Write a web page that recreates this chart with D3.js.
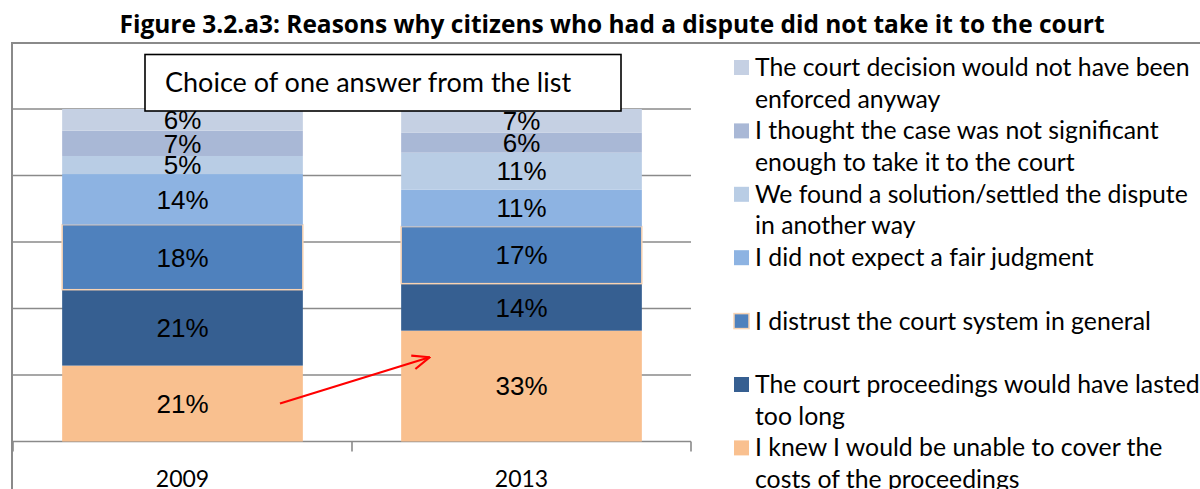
<!DOCTYPE html>
<html>
<head>
<meta charset="utf-8">
<script src="https://cdn.jsdelivr.net/npm/d3@7"></script>
<style>
  body { margin: 0; background: #fff; }
  svg { display: block; }
</style>
</head>
<body>
<div id="chart"></div>
<script>
// Reasons why citizens who had a dispute did not take it to the court

const years = ["2009", "2013"];

// stacking order, bottom to top
const reasons = ["costs", "long", "distrust", "fair", "solution", "notsig", "enforced"];

const reasonLabels = [
  ["I knew I would be unable to cover the", "costs of the proceedings"],
  ["The court proceedings would have lasted", "too long"],
  ["I distrust the court system in general"],
  ["I did not expect a fair judgment"],
  ["We found a solution/settled the dispute", "in another way"],
  ["I thought the case was not significant", "enough to take it to the court"],
  ["The court decision would not have been", "enforced anyway"]
];

const values2009 = [21, 21, 18, 14, 5, 7, 6];
const values2013 = [33, 14, 17, 11, 11, 6, 7];

const reasonColors = ["#F9C08F", "#365F91", "#4F81BD", "#8DB3E2", "#B9CDE5", "#A9B8D6", "#C5D0E3"];

const yTicks = [0, 0.2, 0.4, 0.6, 0.8, 1];

const W = 1200, H = 489;
const plot = { left: 13, right: 691, top: 109, bottom: 441.5 };
const textFont = "Lato, 'Open Sans', sans-serif";

const svg = d3.select("#chart").append("svg")
  .attr("width", W)
  .attr("height", H);

// rows for d3.stack
const table = years.map((yr, i) => {
  const row = { year: yr };
  const vals = i === 0 ? values2009 : values2013;
  reasons.forEach((r, j) => row[r] = vals[j]);
  return row;
});

const stack = d3.stack()
  .keys(reasons)
  .offset(d3.stackOffsetExpand);
const series = stack(table);

const x = d3.scaleBand()
  .domain(years)
  .range([plot.left, plot.right])
  .paddingInner(0.29)
  .paddingOuter(0.145);

const y = d3.scaleLinear()
  .domain([0, 1])
  .range([plot.bottom, plot.top]);

const color = d3.scaleOrdinal().domain(reasons).range(reasonColors);

// chart area border (top + left)
svg.append("line")
  .attr("x1", 11).attr("x2", W)
  .attr("y1", 43).attr("y2", 43)
  .attr("stroke", "#8a8a8a").attr("stroke-width", 2);
svg.append("line")
  .attr("x1", 12).attr("x2", 12)
  .attr("y1", 42).attr("y2", H)
  .attr("stroke", "#8a8a8a").attr("stroke-width", 2);

// gridlines
svg.append("g")
  .selectAll("line")
  .data(yTicks)
  .join("line")
  .attr("x1", plot.left).attr("x2", plot.right)
  .attr("y1", d => y(d)).attr("y2", d => y(d))
  .attr("stroke", "#8a8a8a")
  .attr("stroke-width", 1.6);

// x axis
const xAxis = d3.axisBottom(x).tickSize(0).tickPadding(26);
const gx = svg.append("g")
  .attr("transform", `translate(0,${plot.bottom})`)
  .call(xAxis);
gx.select(".domain").remove();
gx.selectAll("text")
  .attr("font-family", textFont)
  .attr("font-size", "23px")
  .attr("fill", "#000")
  .attr("dy", "0.85em");

// tick marks between categories
const tickXs = [plot.left, x(years[1]) - x.step() * x.paddingInner() / 2, plot.right];
svg.append("g")
  .selectAll("line")
  .data(tickXs)
  .join("line")
  .attr("x1", d => d).attr("x2", d => d)
  .attr("y1", plot.bottom).attr("y2", plot.bottom + 10)
  .attr("stroke", "#8a8a8a")
  .attr("stroke-width", 1.6);

// bars
const layer = svg.append("g")
  .selectAll("g")
  .data(series)
  .join("g")
  .attr("fill", d => color(d.key));

layer.selectAll("rect")
  .data(d => d.map(p => Object.assign(p, { key: d.key })))
  .join("rect")
  .attr("x", d => x(d.data.year))
  .attr("y", d => y(d[1]))
  .attr("width", x.bandwidth())
  .attr("height", d => y(d[0]) - y(d[1]))
  .attr("stroke", d => d.key === "distrust" ? "#F8D3B3" : "none")
  .attr("stroke-width", 1.5);

// segment labels
layer.selectAll("text")
  .data(d => d)
  .join("text")
  .attr("x", d => x(d.data.year) + x.bandwidth() / 2)
  .attr("y", d => y((d[0] + d[1]) / 2))
  .attr("dy", "0.36em")
  .attr("text-anchor", "middle")
  .attr("font-family", "'Liberation Sans', Arial, sans-serif")
  .attr("font-size", "26px")
  .attr("fill", "#000")
  .text(d => d.data[d.key] + "%");

// red arrow: from 2009 "costs" segment to 2013 "costs" segment
const costs = series[0];
const ax1 = x("2009") + x.bandwidth() * 0.905;
const ay1 = y((costs[0][0] + costs[0][1]) / 2);
const ax2 = x("2013") + x.bandwidth() * 0.118;
const ay2 = y(costs[1][0] + (costs[1][1] - costs[1][0]) * 0.76);

svg.append("defs").append("marker")
  .attr("id", "arrowhead")
  .attr("viewBox", "0 0 20 20")
  .attr("refX", 19).attr("refY", 10)
  .attr("markerWidth", 20).attr("markerHeight", 20)
  .attr("markerUnits", "userSpaceOnUse")
  .attr("orient", "auto")
  .append("path")
  .attr("d", "M2,3 L19,10 L2,17")
  .attr("fill", "none")
  .attr("stroke", "#FF0000")
  .attr("stroke-width", 2.2);

svg.append("line")
  .attr("x1", ax1).attr("y1", ay1)
  .attr("x2", ax2).attr("y2", ay2)
  .attr("stroke", "#FF0000")
  .attr("stroke-width", 2.2)
  .attr("marker-end", "url(#arrowhead)");

// note box
const note = svg.append("g");
note.append("rect")
  .attr("x", 145).attr("y", 54.5)
  .attr("width", 476).attr("height", 56.5)
  .attr("fill", "#fff")
  .attr("stroke", "#000")
  .attr("stroke-width", 1.6);
note.append("text")
  .attr("x", 165).attr("y", 91.5)
  .attr("font-family", textFont)
  .attr("font-size", "27px")
  .attr("fill", "#000")
  .text("Choice of one answer from the list");

// title, sized to span the same width as the original
const title = svg.append("text")
  .attr("x", 612).attr("y", 33)
  .attr("text-anchor", "middle")
  .attr("font-family", "'Open Sans', Lato, sans-serif")
  .attr("font-weight", "bold")
  .attr("font-size", "22px")
  .attr("fill", "#000")
  .text("Figure 3.2.a3: Reasons why citizens who had a dispute did not take it to the court");
const tw = title.node().getComputedTextLength();
title.attr("font-size", (22 * 985 / tw).toFixed(2) + "px");

// legend (top to bottom = reverse stacking order)
const legendOrder = reasons.slice().reverse();
const legend = svg.append("g")
  .selectAll("g")
  .data(legendOrder)
  .join("g")
  .attr("transform", (d, i) => `translate(734,${76 + i * 63.4})`);

legend.append("rect")
  .attr("x", 0).attr("y", -16)
  .attr("width", 15).attr("height", 15)
  .attr("fill", d => color(d))
  .attr("stroke", d => d === "distrust" ? "#F8D3B3" : "none")
  .attr("stroke-width", 1.5);

legend.append("text")
  .attr("font-family", textFont)
  .attr("font-size", "24.8px")
  .attr("fill", "#000")
  .selectAll("tspan")
  .data(d => reasonLabels[reasons.indexOf(d)])
  .join("tspan")
  .attr("x", 21)
  .attr("y", (d, i) => i * 31.7)
  .text(d => d);
</script>
</body>
</html>
